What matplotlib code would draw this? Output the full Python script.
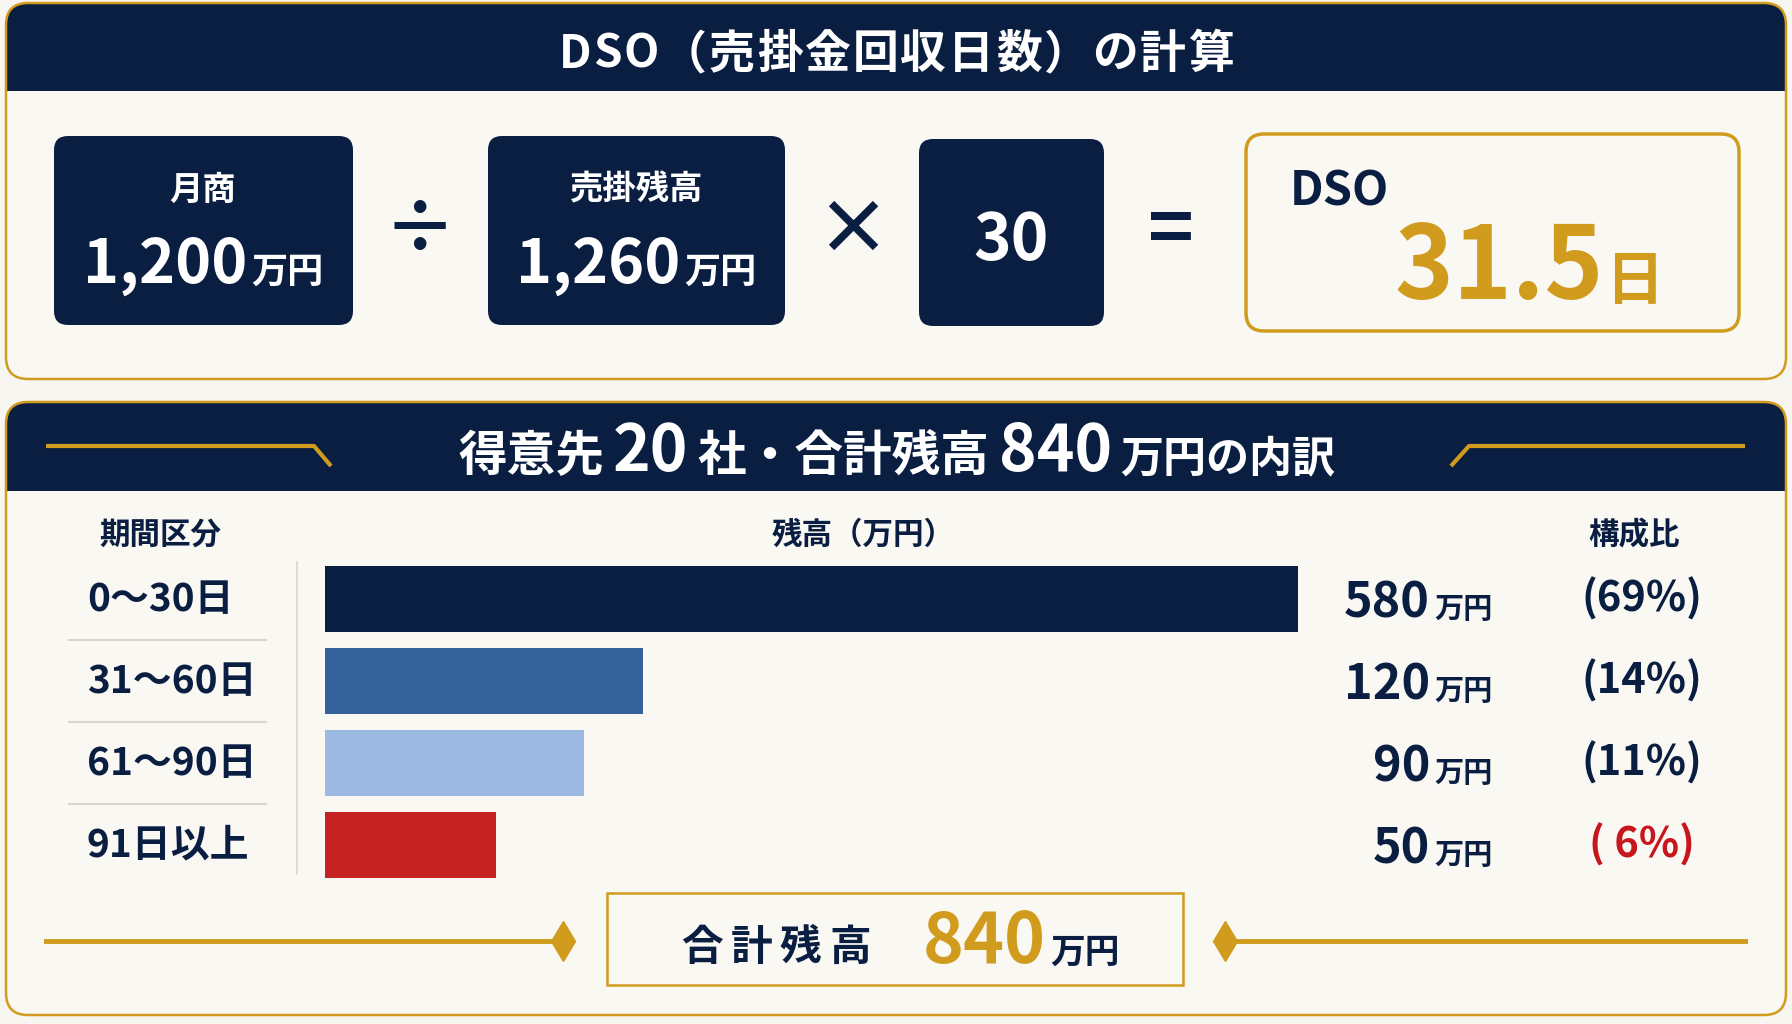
import numpy as np
import matplotlib
matplotlib.use("Agg")
import matplotlib.pyplot as plt
from matplotlib.patches import FancyBboxPatch, Rectangle

plt.rcParams['font.family'] = ['Noto Sans CJK JP', 'DejaVu Sans']

# data
monthly_sales = "1,200"
receivables = "1,260"
days = 30
dso = 31.5
n_clients = 20
total = 840
categories = ['0～30日', '31～60日', '61～90日', '91日以上']
balances = [580, 120, 90, 50]
shares = [69, 14, 11, 6]

navy = '#0a1e42'
gold = '#d19c1d'
cream = '#faf8f3'
red = '#c8161d'
bar_colors = [navy, '#36629b', '#9bb9e1', '#c52222']

W, H = 1792, 1024
fig = plt.figure(figsize=(W / 100, H / 100), dpi=100, facecolor='#f8f6f1')
ax = fig.add_axes([0, 0, 1, 1])
ax.set_xlim(0, W)
ax.set_ylim(H, 0)
ax.axis('off')
r = fig.canvas.get_renderer()


def run(x, y, parts, ha='left', gap=0):
    # place text pieces of mixed sizes on one baseline
    texts = []
    cur = x
    for s, size, color in parts:
        t = ax.text(cur, y, s, fontsize=size, color=color, fontweight='bold',
                    va='baseline', ha='left', zorder=6)
        cur += t.get_window_extent(r).width + gap
        texts.append(t)
    width = cur - gap - x
    shift = {'left': 0, 'center': width / 2, 'right': width}[ha]
    for t in texts:
        t.set_x(t.get_position()[0] - shift)


def panel(y0, y1, hb):
    p = FancyBboxPatch((6, y0), 1780, y1 - y0, boxstyle="round,pad=0,rounding_size=22",
                       fc=cream, ec='none', zorder=1)
    ax.add_patch(p)
    hdr = Rectangle((0, y0), W, hb - y0, fc=navy, ec='none', zorder=2)
    ax.add_patch(hdr)
    hdr.set_clip_path(p)
    ax.add_patch(FancyBboxPatch((6, y0), 1780, y1 - y0, boxstyle="round,pad=0,rounding_size=22",
                                fc='none', ec=gold, lw=1.8, zorder=3))


def box(x0, y0, x1, y1, fc, ec='none', lw=0, rad=14):
    ax.add_patch(FancyBboxPatch((x0, y0), x1 - x0, y1 - y0,
                                boxstyle=f"round,pad=0,rounding_size={rad}",
                                fc=fc, ec=ec, lw=lw, zorder=4))


def label(x, y, s, size, color, ha='center'):
    ax.text(x, y, s, fontsize=size, color=color, fontweight='bold', ha=ha, va='center', zorder=6)


# ---- top panel: DSO formula
panel(3, 379, 91)
run(896, 68, [(c, 33, 'white') for c in 'DSO（売掛金回収日数）の計算'], ha='center', gap=2)

box(54, 136, 353, 325, navy)
label(203, 190, '月商', 24, 'white')
run(203, 283, [(monthly_sales, 44, 'white'), ('万円', 26, 'white')], ha='center', gap=4)

label(420, 232, '÷', 52, navy)

box(488, 136, 785, 325, navy)
label(636, 190, '売掛残高', 24, 'white')
run(636, 283, [(receivables, 44, 'white'), ('万円', 26, 'white')], ha='center', gap=4)

label(853, 232, '×', 54, navy)

box(919, 139, 1104, 326, navy)
run(1011, 260, [(str(days), 46, 'white')], ha='center')

label(1171, 232, '=', 56, navy)

box(1246, 134, 1739, 331, 'none', ec=gold, lw=2.5, rad=18)
run(1290, 206, [('DSO', 34, navy)])
run(1394, 299, [(f'{dso}', 72, gold), ('日', 42, gold)], gap=2)

# ---- bottom panel: aging breakdown
panel(402, 1015, 491)
run(897, 471, [('得意先', 35, 'white'), (str(n_clients), 46, 'white'), ('社・合計残高', 35, 'white'),
               (str(total), 46, 'white'), ('万円の内訳', 31, 'white')], ha='center', gap=9)
ax.plot([46, 314, 331], [446, 446, 466], color=gold, lw=3, zorder=5, solid_capstyle='butt')
ax.plot([1451, 1469, 1745], [466, 446, 446], color=gold, lw=3, zorder=5, solid_capstyle='butt')

label(160, 535, '期間区分', 22, navy)
label(863, 535, '残高（万円）', 22, navy)
label(1634, 535, '構成比', 22, navy)

# bars on a compressed (power) scale so the small categories stay readable
bar_top, row_h = 558, 82
n = len(categories)
bx = fig.add_axes([325 / W, 1 - (bar_top + n * row_h) / H, 973 / W, n * row_h / H])
bx.set_xscale('function', functions=(lambda v: np.power(np.clip(v, 0, None), 0.71),
                                     lambda v: np.power(np.clip(v, 0, None), 1 / 0.71)))
bx.barh(range(n), balances, height=0.8, color=bar_colors)
bx.set_xlim(0, max(balances))
bx.set_ylim(n - 0.5, -0.5)
bx.axis('off')

ax.plot([297, 297], [562, 874], color='#d8d6d0', lw=1.2)
for i, (cat, val, sh) in enumerate(zip(categories, balances, shares)):
    yc = bar_top + row_h * (i + 0.5)
    label(87, yc, cat, 28, navy, ha='left')
    if i < n - 1:
        ax.plot([69, 266], [yc + row_h / 2, yc + row_h / 2], color='#d8d6d0', lw=1.5)
    run(1430, yc + 19, [(str(val), 35, navy)], ha='right')
    run(1434, yc + 19, [('万円', 21, navy)])
    label(1642, yc, f'({sh:>2}%)', 30, red if sh < 10 else navy)

# total box
ax.add_patch(Rectangle((607, 893), 576, 92, fc=cream, ec=gold, lw=1.8, zorder=4))
run(776, 960, [(c, 30, navy) for c in '合計残高'], ha='center', gap=8)
run(923, 963, [(str(total), 50, gold), ('万円', 25, navy)], gap=4)
ax.plot([46, 560], [941, 941], color=gold, lw=3.5, zorder=5)
ax.plot([1228, 1745], [941, 941], color=gold, lw=3.5, zorder=5)
ax.plot([563, 1225], [941, 941], ls='none', marker='d', ms=20, color=gold, zorder=5)

fig.savefig('out.png', dpi=100, facecolor=fig.get_facecolor())
